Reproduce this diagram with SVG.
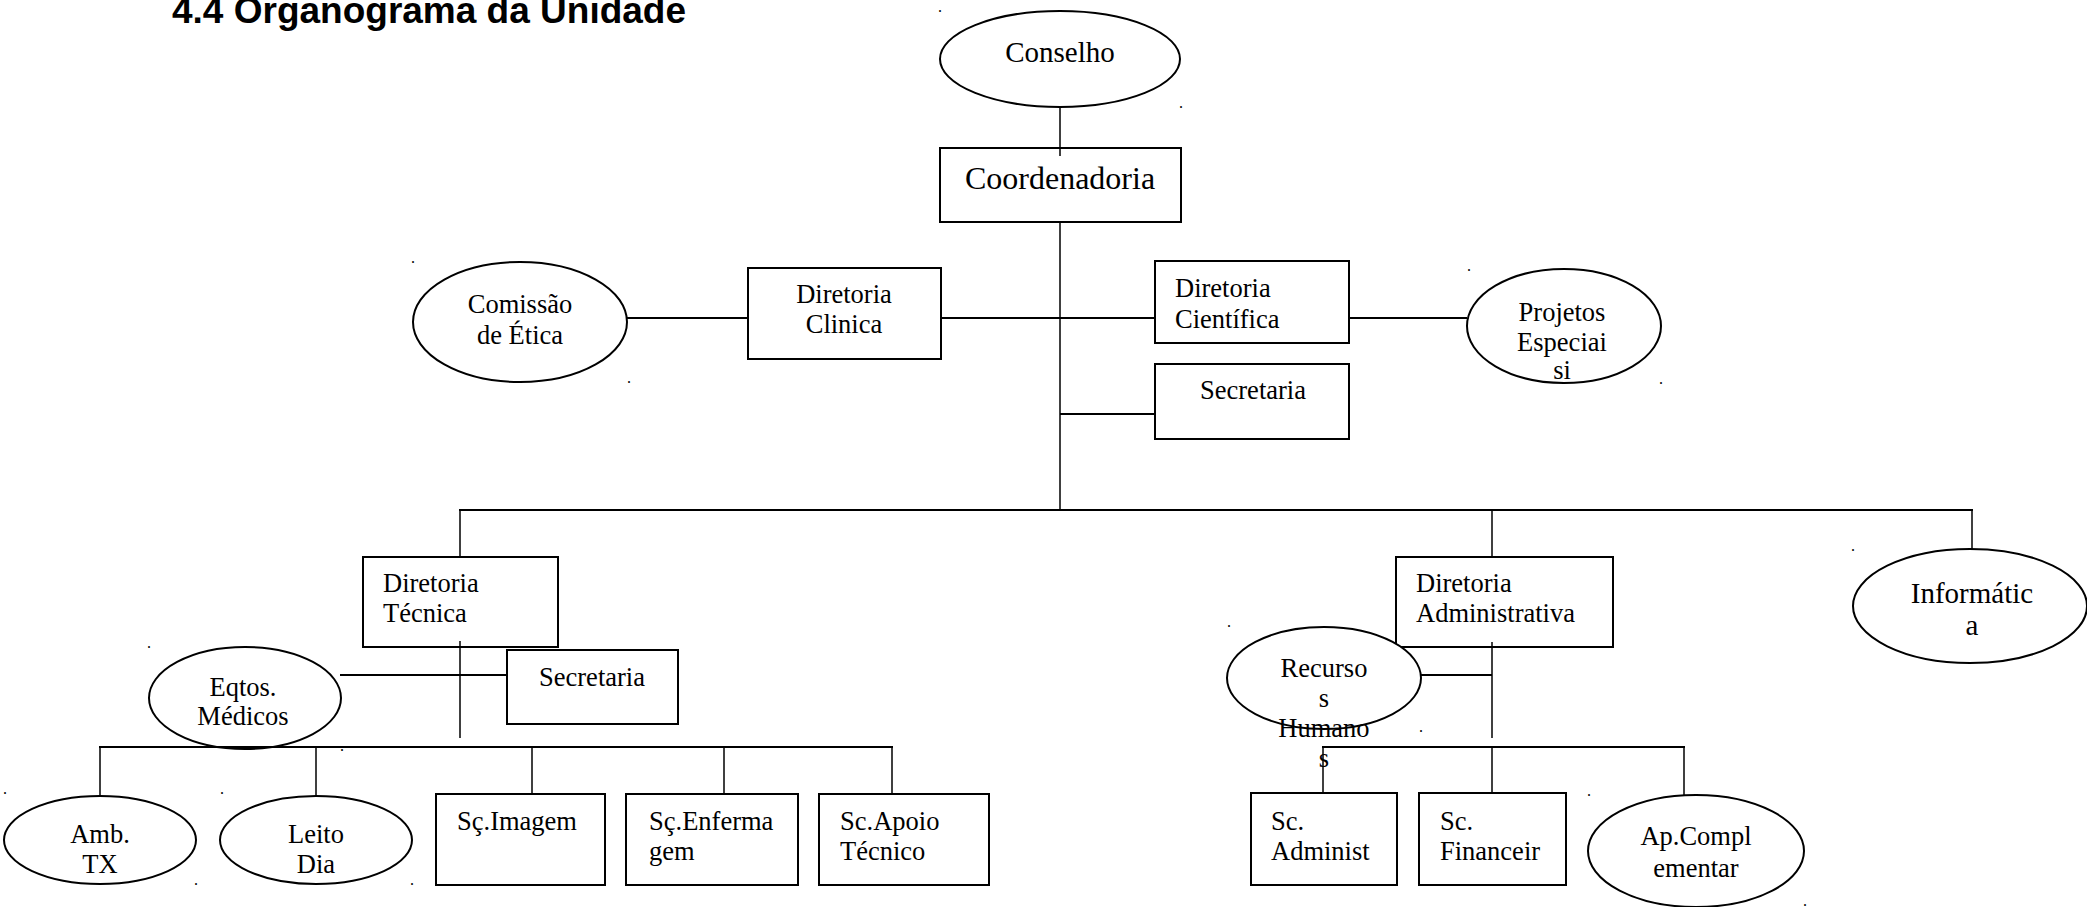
<svg xmlns="http://www.w3.org/2000/svg" width="2087" height="907" viewBox="0 0 2087 907">
<style>
.bx{fill:none;stroke:#000;stroke-width:2}
.el{fill:#fff;stroke:#000;stroke-width:2}
.t{font-family:"Liberation Serif","Times New Roman",serif;font-size:26.5px;fill:#000}
.c{text-anchor:middle}
.h{stroke:#000;stroke-width:2;fill:none}
.v{stroke:#000;stroke-width:1.5;fill:none}
.d{font-family:"Liberation Serif",serif;font-size:16px;fill:#000}
</style>
<rect width="2087" height="907" fill="#fff"/>
<text x="172" y="23" style="font-family:'Liberation Sans',Arial,sans-serif;font-weight:bold;font-size:37px">4.4 Organograma da Unidade</text>

<g id="conselho"><ellipse class="el" cx="1060" cy="59" rx="120" ry="48"/><text class="t c" x="1060" y="62" style="font-size:29px">Conselho</text></g>
<g id="coordenadoria"><rect class="bx" x="940" y="148" width="241" height="74"/><text class="t c" x="1060" y="189" style="font-size:32px">Coordenadoria</text></g>
<g id="comissao-etica"><ellipse class="el" cx="520" cy="322" rx="107" ry="60"/><text class="t c" x="520" y="313">Comissão</text><text class="t c" x="520" y="344">de Ética</text></g>
<g id="diretoria-clinica"><rect class="bx" x="748" y="268" width="193" height="91"/><text class="t c" x="844" y="303">Diretoria</text><text class="t c" x="844" y="333">Clinica</text></g>
<g id="diretoria-cientifica"><rect class="bx" x="1155" y="261" width="194" height="82"/><text class="t" x="1175" y="297">Diretoria</text><text class="t" x="1175" y="328">Científica</text></g>
<g id="projetos-especiais"><ellipse class="el" cx="1564" cy="326" rx="97" ry="57"/><text class="t c" x="1562" y="321">Projetos</text><text class="t c" x="1562" y="351">Especiai</text><text class="t c" x="1562" y="379">si</text></g>
<g id="secretaria-1"><rect class="bx" x="1155" y="364" width="194" height="75"/><text class="t c" x="1253" y="399">Secretaria</text></g>

<g id="diretoria-tecnica"><rect class="bx" x="363" y="557" width="195" height="90"/><text class="t" x="383" y="592">Diretoria</text><text class="t" x="383" y="622">Técnica</text></g>
<g id="secretaria-2"><rect class="bx" x="507" y="650" width="171" height="74"/><text class="t c" x="592" y="686">Secretaria</text></g>
<g id="eqtos-medicos"><ellipse class="bx" cx="245" cy="698" rx="96" ry="51"/><text class="t c" x="243" y="696">Eqtos.</text><text class="t c" x="243" y="725">Médicos</text></g>
<g id="amb-tx"><ellipse class="el" cx="100" cy="840" rx="96" ry="44"/><text class="t c" x="100" y="843">Amb.</text><text class="t c" x="100" y="873">TX</text></g>
<g id="leito-dia"><ellipse class="el" cx="316" cy="840" rx="96" ry="44"/><text class="t c" x="316" y="843">Leito</text><text class="t c" x="316" y="873">Dia</text></g>
<g id="sc-imagem"><rect class="bx" x="436" y="794" width="169" height="91"/><text class="t" x="457" y="830">Sç.Imagem</text></g>
<g id="sc-enfermagem"><rect class="bx" x="626" y="794" width="172" height="91"/><text class="t" x="649" y="830">Sç.Enferma</text><text class="t" x="649" y="860">gem</text></g>
<g id="sc-apoio-tecnico"><rect class="bx" x="819" y="794" width="170" height="91"/><text class="t" x="840" y="830">Sc.Apoio</text><text class="t" x="840" y="860">Técnico</text></g>

<g id="diretoria-administrativa"><rect class="bx" x="1396" y="557" width="217" height="90"/><text class="t" x="1416" y="592">Diretoria</text><text class="t" x="1416" y="622">Administrativa</text></g>
<g id="recursos-humanos"><ellipse class="el" cx="1324" cy="678" rx="97" ry="51"/><text class="t c" x="1324" y="677">Recurso</text><text class="t c" x="1324" y="707">s</text><text class="t c" x="1324" y="737">Humano</text><text class="t c" x="1324" y="767">s</text></g>
<g id="informatica"><ellipse class="el" cx="1970" cy="606" rx="117" ry="57"/><text class="t c" x="1972" y="603" style="font-size:29px">Informátic</text><text class="t c" x="1972" y="635" style="font-size:29px">a</text></g>
<g id="sc-administ"><rect class="bx" x="1251" y="793" width="146" height="92"/><text class="t" x="1271" y="830">Sc.</text><text class="t" x="1271" y="860">Administ</text></g>
<g id="sc-financeir"><rect class="bx" x="1419" y="793" width="147" height="92"/><text class="t" x="1440" y="830">Sc.</text><text class="t" x="1440" y="860">Financeir</text></g>
<g id="ap-complementar"><ellipse class="el" cx="1696" cy="851" rx="108" ry="56"/><text class="t c" x="1696" y="845">Ap.Compl</text><text class="t c" x="1696" y="877">ementar</text></g>

<g id="connectors">
<line class="v" x1="1060" y1="107" x2="1060" y2="156"/>
<line class="v" x1="1060" y1="222" x2="1060" y2="511"/>
<line class="h" x1="627" y1="318" x2="748" y2="318"/>
<line class="h" x1="941" y1="318" x2="1155" y2="318"/>
<line class="h" x1="1349" y1="318" x2="1467" y2="318"/>
<line class="h" x1="1060" y1="414" x2="1155" y2="414"/>
<line class="h" x1="459" y1="510" x2="1973" y2="510"/>
<line class="v" x1="460" y1="510" x2="460" y2="557"/>
<line class="v" x1="1492" y1="510" x2="1492" y2="557"/>
<line class="v" x1="1972" y1="510" x2="1972" y2="550"/>
<line class="v" x1="460" y1="641" x2="460" y2="738"/>
<line class="h" x1="340" y1="675" x2="507" y2="675"/>
<line class="h" x1="99" y1="747" x2="893" y2="747"/>
<line class="v" x1="100" y1="747" x2="100" y2="796"/>
<line class="v" x1="316" y1="747" x2="316" y2="796"/>
<line class="v" x1="532" y1="747" x2="532" y2="795"/>
<line class="v" x1="724" y1="747" x2="724" y2="795"/>
<line class="v" x1="892" y1="747" x2="892" y2="795"/>
<line class="v" x1="1492" y1="642" x2="1492" y2="738"/>
<line class="h" x1="1421" y1="675" x2="1492" y2="675"/>
<line class="h" x1="1322" y1="747" x2="1685" y2="747"/>
<line class="v" x1="1323" y1="747" x2="1323" y2="794"/>
<line class="v" x1="1492" y1="747" x2="1492" y2="794"/>
<line class="v" x1="1684" y1="747" x2="1684" y2="795"/>
</g>

<g id="dots">
<text class="d" x="938" y="12">.</text>
<text class="d" x="1179" y="108">.</text>
<text class="d" x="411" y="263">.</text>
<text class="d" x="627" y="383">.</text>
<text class="d" x="1467" y="271">.</text>
<text class="d" x="1659" y="384">.</text>
<text class="d" x="147" y="648">.</text>
<text class="d" x="340" y="751">.</text>
<text class="d" x="3" y="794">.</text>
<text class="d" x="220" y="794">.</text>
<text class="d" x="194" y="885">.</text>
<text class="d" x="410" y="885">.</text>
<text class="d" x="1227" y="627">.</text>
<text class="d" x="1419" y="732">.</text>
<text class="d" x="1851" y="551">.</text>
<text class="d" x="1587" y="796">.</text>
<text class="d" x="1803" y="906">.</text>
</g>
</svg>
